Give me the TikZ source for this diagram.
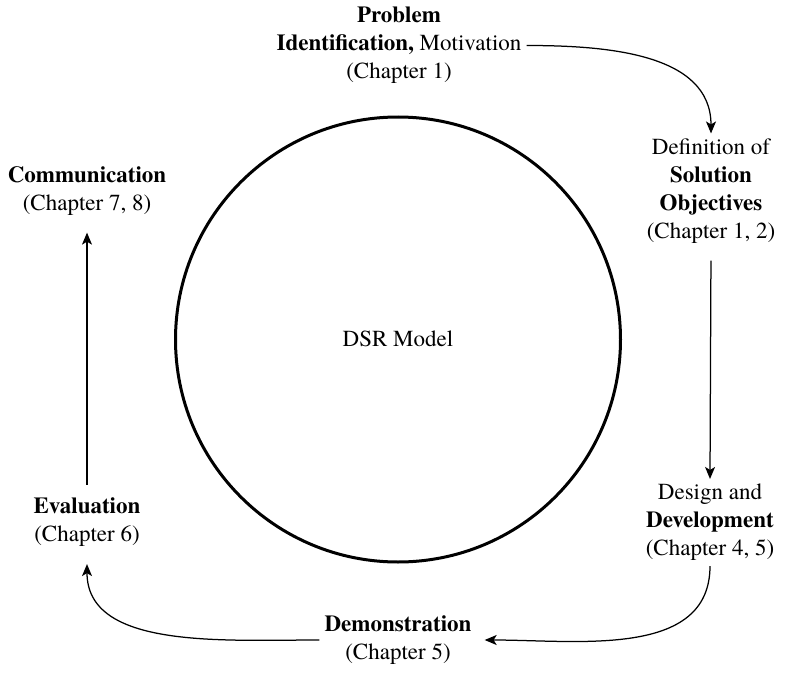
\documentclass[tikz,border=0pt]{standalone}
\usepackage{fontspec}
\setmainfont{texgyretermes}[Extension=.otf,UprightFont=*-regular,BoldFont=*-bold,ItalicFont=*-italic,BoldItalicFont=*-bolditalic]
\usepackage{tikz}
\usetikzlibrary{arrows.meta}
\usetikzlibrary{positioning}

\tikzset{
    stepbox/.style={align=center,inner sep=5pt,font=\fontsize{23}{28}\selectfont},
    flow/.style={-{Stealth[length=12pt,width=10pt,inset=3pt]},line width=1.25pt},
}

\begin{document}
\begin{tikzpicture}[x=1pt,y=1pt]
    \useasboundingbox (0,0) rectangle (801,-685);

    \draw[line width=3pt] (398,-339.5) circle (222.5);
    \node[stepbox] (dsr) at (398,-339) {DSR Model};

    \node[stepbox] (prob) at (399,-45.5) {\textbf{Problem}\\\textbf{Identification,} Motivation\\(Chapter 1)};
    \node[stepbox] (def) at (711,-191) {Definition of\\\textbf{Solution}\\\textbf{Objectives}\\(Chapter 1, 2)};
    \node[stepbox] (design) at (710,-522.5) {Design and\\\textbf{Development}\\(Chapter 4, 5)};
    \node[stepbox] (demo) at (398,-640) {\textbf{Demonstration}\\(Chapter 5)};
    \node[stepbox] (eval) at (87,-522.5) {\textbf{Evaluation}\\(Chapter 6)};
    \node[stepbox] (comm) at (87,-191) {\textbf{Communication}\\(Chapter 7, 8)};

    \draw[flow] (prob.east) to[out=0,in=90] (def.north);
    \draw[flow,shorten <=12pt] (def.south) -- (design.north);
    \draw[flow] (design.south) to[out=-90,in=0] ([xshift=8pt]demo.east);
    \draw[flow,shorten >=12pt] (demo.west) to[out=180,in=-90] (eval.south);
    \draw[flow,shorten <=8pt,shorten >=12pt] (eval.north) -- (comm.south);
\end{tikzpicture}
\end{document}
